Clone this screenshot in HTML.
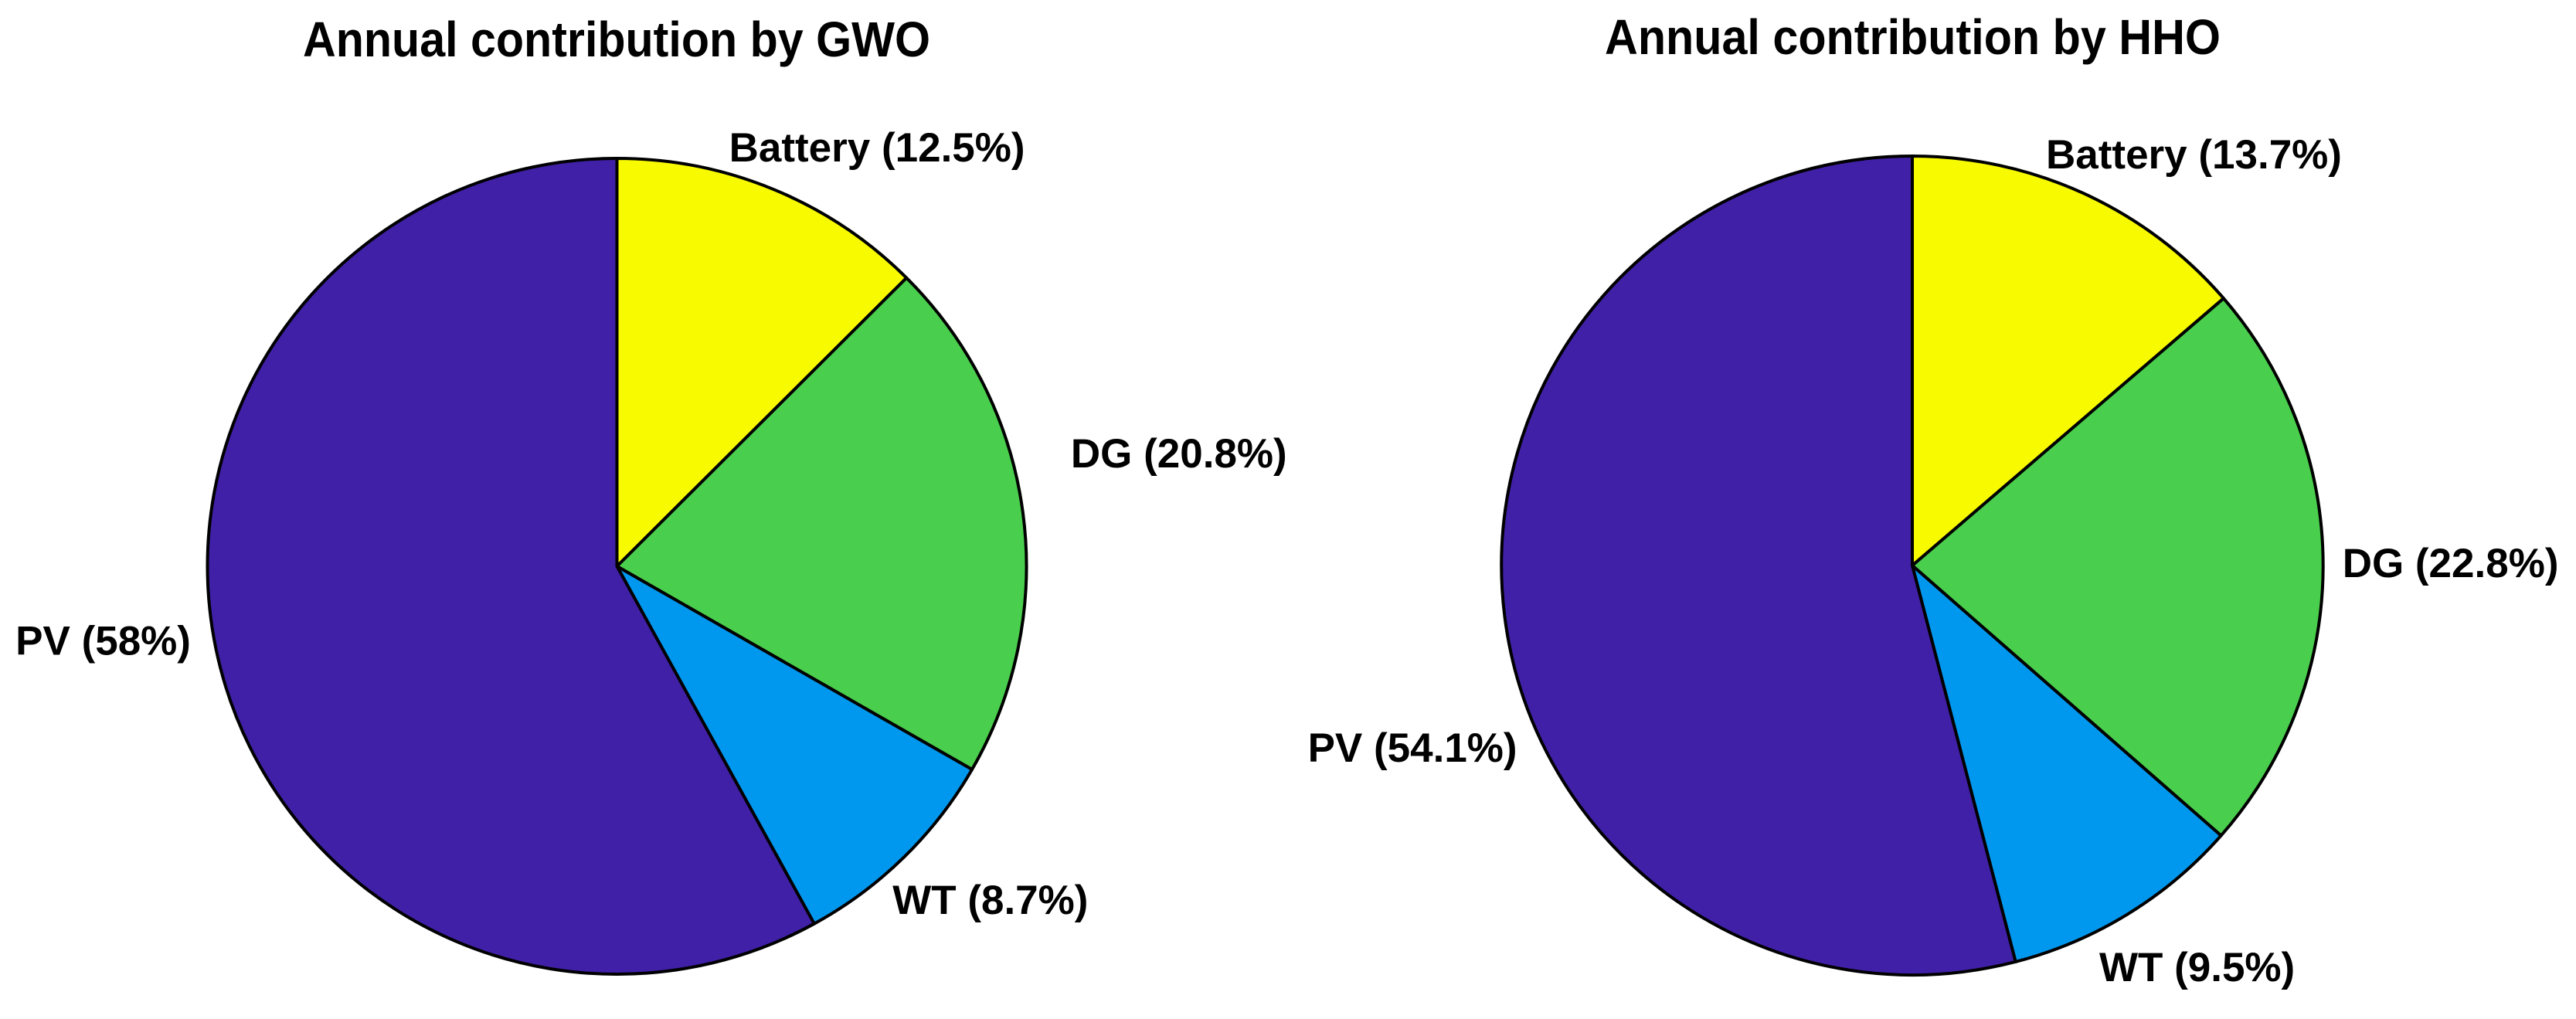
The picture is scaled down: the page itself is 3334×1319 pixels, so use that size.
<!DOCTYPE html>
<html lang="en">
<head>
<meta charset="utf-8">
<title>Annual contribution by GWO and HHO</title>
<style>
  html, body { margin: 0; padding: 0; background: #fff; }
  svg { display: block; }
  text { font-family: "Liberation Sans", Arial, sans-serif; font-weight: bold; fill: #000; }
  .chart-title { font-size: 64px; }
  .slice-label { font-size: 53px; }
  .slice { stroke: #000; stroke-width: 4; stroke-linejoin: round; }
</style>
</head>
<body>
<svg id="figure" xmlns="http://www.w3.org/2000/svg" width="3334" height="1319" viewBox="0 0 3334 1319">
  <rect x="0" y="0" width="3334" height="1319" fill="#ffffff"/>
  <text id="title-gwo" class="chart-title" x="392" y="73" textLength="812" lengthAdjust="spacingAndGlyphs">Annual contribution by GWO</text>
  <text id="title-hho" class="chart-title" x="2077" y="70" textLength="797" lengthAdjust="spacingAndGlyphs">Annual contribution by HHO</text>
</svg>
<script>
// Data
const categories = ["Battery", "DG", "WT", "PV"];
const gwoValues = [12.5, 20.8, 8.7, 58];
const hhoValues = [13.7, 22.8, 9.5, 54.1];

// Styling per category
const sliceColors = ["#F8FA00", "#4ACE4D", "#0098EE", "#4020A6"];

const svgNS = "http://www.w3.org/2000/svg";
const figure = document.getElementById("figure");

function angleAt(cumulative, total) {
  return (cumulative / total) * 2 * Math.PI;
}

function pointAt(geom, angle) {
  return [geom.cx + geom.rx * Math.sin(angle), geom.cy - geom.ry * Math.cos(angle)];
}

function drawPie(prefix, values, geom, labelNudges) {
  const total = values.reduce(function (a, b) { return a + b; }, 0);
  const group = document.createElementNS(svgNS, "g");
  
  
  figure.appendChild(group);

  let cumulative = 0;
  values.forEach(function (value, i) {
    const start = angleAt(cumulative, total);
    const end = angleAt(cumulative + value, total);
    const mid = (start + end) / 2;
    const p0 = pointAt(geom, start);
    const p1 = pointAt(geom, end);
    const largeArc = end - start > Math.PI ? 1 : 0;
    const slug = categories[i].toLowerCase();

    const path = document.createElementNS(svgNS, "path");
    path.setAttribute("class", "slice");
    path.setAttribute("fill", sliceColors[i]);
    path.setAttribute("d",
      "M" + geom.cx + " " + geom.cy +
      " L" + p0[0] + " " + p0[1] +
      " A" + geom.rx + " " + geom.ry + " 0 " + largeArc + " 1 " + p1[0] + " " + p1[1] + " Z");
    
    
    group.appendChild(path);

    const anchor = pointAt(geom, mid);
    const label = document.createElementNS(svgNS, "text");
    label.setAttribute("class", "slice-label");
    label.setAttribute("x", anchor[0] + labelNudges[i][0]);
    label.setAttribute("y", anchor[1] + labelNudges[i][1]);
    label.textContent = categories[i] + " (" + value + "%)";
    
    
    group.appendChild(label);

    cumulative += value;
  });
}

drawPie("gwo", gwoValues, { cx: 798.5, cy: 733, rx: 530, ry: 528 },
  [[-57.7, -36.2], [62, -58.5], [-14.5, 73], [-265, -17]]);
drawPie("hho", hhoValues, { cx: 2475, cy: 732, rx: 531.7, ry: 530 },
  [[-48.6, -32.2], [25, 12.5], [-37, 87], [-255, 187]]);
</script>
</body>
</html>
